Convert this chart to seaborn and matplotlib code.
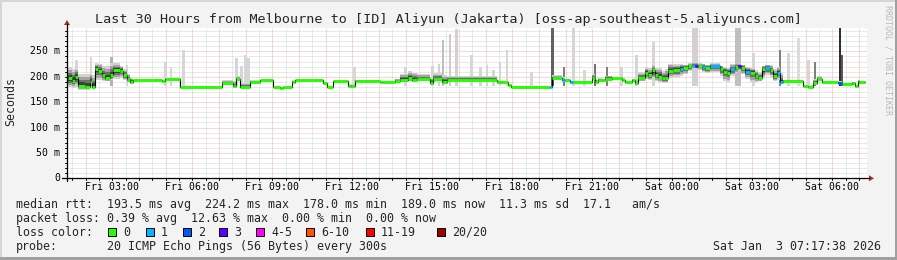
import numpy as np
import pandas as pd
import seaborn as sns
import matplotlib
matplotlib.use("Agg")
import matplotlib.pyplot as plt
from matplotlib.patches import Rectangle, Polygon
from matplotlib.lines import Line2D

# ---------------- data (hours since Fri 01:17:38) ----------------
title = "Last 30 Hours from Melbourne to [ID] Aliyun (Jakarta) [oss-ap-southeast-5.aliyuncs.com]"

t_med = [0.0, 0.05, 0.175, 0.3, 0.425, 0.675, 0.86, 0.925, 1.05, 1.175, 1.3, 1.425, 1.61, 1.74, 1.99,
         2.11, 2.24, 2.36, 2.49, 3.55, 3.675, 4.24, 5.8, 6.24, 6.325, 6.49, 6.86, 7.24, 7.74, 7.99,
         8.11, 8.425, 8.55, 9.61, 9.74, 9.99, 10.55, 10.65, 10.8, 11.74, 11.86, 12.3, 12.49, 12.8,
         12.925, 13.11, 13.61, 13.74, 14.05, 14.24, 16.11, 16.24, 16.55, 16.65, 18.11, 18.2, 18.55,
         18.675, 18.86, 18.99, 19.675, 19.8, 19.925, 20.05, 20.175, 20.425, 20.8, 20.925, 21.175,
         21.3, 21.425, 21.675, 21.8, 21.925, 22.05, 22.175, 22.3, 22.425, 22.55, 22.74, 22.99,
         23.11, 23.3, 23.425, 23.55, 23.675, 23.8, 23.925, 24.11, 24.49, 24.61, 24.74, 24.86,
         25.05, 25.175, 25.275, 25.425, 25.61, 25.8, 25.925, 26.05, 26.175, 26.36, 26.49, 26.61,
         26.74, 26.86, 27.61, 27.8, 27.99, 28.11, 28.3, 28.925, 29.05, 29.425, 29.55, 29.65, 29.71]
median_ms = [203, 197, 192, 200, 182, 180, 190, 180, 215, 212, 203, 197, 203, 213, 212,
             203, 195, 190, 193, 191, 195, 180, 188, 182, 195, 179.5, 189, 193, 180, 178,
             180, 190, 193, 187, 179.5, 192, 182, 181, 192, 190, 189, 192, 194, 197,
             194, 195, 187, 195, 189, 194, 190, 189, 183, 179.5, 179.5, 197, 194,
             193, 189, 189, 197, 189, 194, 193, 196, 197, 194, 189, 193,
             187, 197, 207, 203, 213, 203, 200, 197, 197, 212, 213, 216,
             217, 221, 222, 222, 221, 219, 217, 221, 215, 210, 208, 215,
             219, 221, 217, 210, 208, 201, 197, 215, 217, 213, 201, 208,
             189, 192, 182, 180, 188, 196, 189, 188, 186, 188, 182, 191, 189]
# ping spread below / above the median for each segment (ms)
smoke_dn = [24, 18, 14, 20, 8, 6, 10, 5, 22, 18, 12, 6, 10, 18, 15,
            10, 6, 4, 1, 1, 1, 0, 1, 1, 1, 0, 1, 0, 0, 0,
            0, 1, 1, 1, 0, 1, 1, 1, 1, 1, 1, 1, 4, 6,
            4, 3, 2, 5, 4, 2, 1, 1, 1, 0, 0, 2, 2,
            1, 1, 1, 3, 2, 1, 1, 1, 1, 1, 1, 1,
            2, 6, 12, 10, 18, 12, 10, 10, 10, 14, 14, 14,
            12, 10, 6, 6, 7, 10, 10, 12, 14, 18, 18, 14,
            12, 10, 12, 14, 18, 12, 6, 18, 14, 14, 10, 14,
            4, 1, 1, 0, 1, 1, 1, 1, 1, 1, 1, 1, 1]
smoke_up = [18, 22, 24, 18, 24, 26, 18, 24, 12, 14, 18, 24, 24, 14, 10,
            12, 10, 7, 2, 2, 2, 1, 5, 9, 6, 9, 4, 1, 1, 1,
            1, 3, 1, 1, 1, 1, 3, 4, 2, 1, 1, 4, 12, 14,
            14, 10, 12, 12, 14, 7, 3, 3, 2, 1, 2, 6, 5,
            3, 3, 2, 9, 5, 3, 3, 6, 3, 3, 3, 3,
            7, 12, 12, 14, 10, 14, 18, 14, 18, 14, 12, 10,
            7, 6, 6, 6, 6, 7, 7, 6, 7, 10, 10, 10,
            7, 6, 7, 10, 10, 12, 12, 7, 7, 10, 14, 12,
            18, 2, 1, 3, 7, 5, 2, 3, 2, 2, 2, 3, 2]
loss_cnt = [0] * len(t_med)
for _i, _t in enumerate(t_med):
    if _t in (18.11, 18.55, 18.86, 22.99, 23.425, 23.8, 24.11, 24.86, 25.425, 26.175, 26.61, 26.74):
        loss_cnt[_i] = 1
    if _t in (28.925,):
        loss_cnt[_i] = 2
    if _t in (23.55, 25.175):
        loss_cnt[_i] = 3
t_end = 29.93

# outlier ping spikes: centre time, top, grey level, width (h)
spike_t = [0.35, 0.9, 1.675, 2.24, 3.7, 3.9, 4.37, 6.36, 6.55, 6.7, 6.8, 10.775, 12.7, 13.7,
           13.95, 14.11, 14.36, 14.61, 15.175, 15.5, 15.75, 16.0, 16.24, 16.49, 17.425, 18.2,
           18.64, 18.99, 19.4, 19.8, 20.24, 20.8, 21.36, 21.99, 23.55, 25.16, 25.74, 26.74,
           27.05, 27.425, 27.8, 28.05, 28.99, 29.05]
spike_top = [233, 239, 239, 223, 229, 220, 252, 236, 221, 242, 236, 220, 220, 221,
             226, 272, 285, 295, 242, 220, 224, 213, 229, 252, 210, 296,
             220, 296, 213, 226, 220, 220, 242, 269, 296, 296, 246, 252,
             246, 277, 233, 230, 296, 242]
spike_grey = [0.84, 0.84, 0.7, 0.84, 0.84, 0.84, 0.84, 0.84, 0.84, 0.84, 0.84, 0.84, 0.84, 0.84,
              0.82, 0.75, 0.8, 0.82, 0.84, 0.84, 0.84, 0.84, 0.84, 0.84, 0.84, 0.38,
              0.5, 0.84, 0.84, 0.45, 0.5, 0.84, 0.84, 0.84, 0.82, 0.75, 0.84, 0.5,
              0.84, 0.86, 0.84, 0.5, 0.18, 0.35]
spike_w = [0.09] * len(spike_t)
spike_w[spike_t.index(23.55)] = 0.25
spike_w[spike_t.index(25.16)] = 0.23

xtick_labels = ["Fri 03:00", "Fri 06:00", "Fri 09:00", "Fri 12:00", "Fri 15:00",
                "Fri 18:00", "Fri 21:00", "Sat 00:00", "Sat 03:00", "Sat 06:00"]
ytick_vals = [0, 50, 100, 150, 200, 250]
ytick_labels = ["0", "50 m", "100 m", "150 m", "200 m", "250 m"]

rtt_stats = [193.5, 224.2, 178.0, 189.0, 11.3]
am_s = 17.1
loss_stats = [0.39, 12.63, 0.00, 0.00]
loss_labels = ["0", "1", "2", "3", "4-5", "6-10", "11-19", "20/20"]
loss_colors = ["#26ff00", "#00b8ff", "#0059ff", "#5e00ff", "#ff00ff", "#ff5500", "#ff0000", "#a10000"]
probe_text = "20 ICMP Echo Pings (56 Bytes) every 300s"
stamp_text = "Sat Jan  3 07:17:38 2026"

# ---------------- drawing ----------------
sns.set_style("white")
plt.rcParams["font.family"] = ["DejaVu Sans Mono"]

W, H = 897, 260
BG = "#f3f3f3"
fig = plt.figure(figsize=(W / 100, H / 100), dpi=100, facecolor=BG)

def fx(x):
    return x / W

def fy(y):
    return 1 - y / H

L, R, T, B = 67, 867, 28, 178.3
ax = fig.add_axes([fx(L), fy(B), (R - L) / W, (B - T) / H])
ax.set_facecolor("white")
for s in ax.spines.values():
    s.set_visible(False)
ax.set_xticks([]); ax.set_yticks([])

first_hour = 1 - 17 / 60 - 38 / 3600
dot = (0, (1.0, 1.0))
lw1 = 0.72
# minor grid
for k in range(-2, 62):
    h = first_hour + 0.5 * k
    if 0 < h < 30 and k % 2 != 0:
        ax.axvline(h, color="#d4d4d4", lw=lw1, ls=dot, zorder=0.5)
for v in range(10, 296, 10):
    if v % 50:
        ax.axhline(v, color="#d4d4d4", lw=lw1, ls=dot, zorder=0.5)
# major grid
for k in range(0, 30):
    h = first_hour + k
    if h < 30:
        ax.axvline(h, color="#f4b0b0", lw=lw1, ls=dot, zorder=0.6)
for v in range(50, 296, 50):
    ax.axhline(v, color="#f4b0b0", lw=lw1, ls=dot, zorder=0.6)

# outlier spikes (behind the smoke)
for t, top, g, w in sorted(zip(spike_t, spike_top, spike_grey, spike_w), key=lambda z: -z[2]):
    ax.fill_between([t - w / 2, t + w / 2], [182, 182], [top, top], color=str(g), lw=0, zorder=1)

# smoke: layered bands around the median
ends = t_med[1:] + [t_end]
layers = [(1.0, "#d2d2d2"), (0.75, "#a4a4a4"), (0.5, "#707070"), (0.28, "#404040")]
for frac, col in layers:
    for a, b, m, dn, up in zip(t_med, ends, median_ms, smoke_dn, smoke_up):
        if dn + up < 3:
            continue
        ax.fill_between([a, b], [m - dn * frac] * 2, [m + up * frac] * 2, color=col, lw=0, zorder=1.5)

# median line
df = pd.DataFrame({"t": t_med + [t_end], "median": median_ms + [median_ms[-1]]})
sns.lineplot(data=df, x="t", y="median", drawstyle="steps-post", color="black",
             lw=0.8, ax=ax, zorder=2)

def loss_idx(n):
    if n <= 3:
        return n
    if n <= 5:
        return 4
    if n <= 10:
        return 5
    if n <= 19:
        return 6
    return 7

for a, b, v, n in zip(t_med, ends, median_ms, loss_cnt):
    ax.hlines(v, a, b, color=loss_colors[loss_idx(n)], lw=2.1, zorder=3)

ax.set_xlabel(""); ax.set_ylabel("")
ax.set_xlim(0, 30)
ax.set_ylim(0, 296)

# axes lines and arrows (pixel coordinates on figure)
def fline(x0, y0, x1, y1, **kw):
    fig.add_artist(Line2D([fx(x0), fx(x1)], [fy(y0), fy(y1)], **kw))

fline(62, B, 869, B, color="black", lw=0.9)
fline(L, 181, L, 24, color="black", lw=0.9)
fig.add_artist(Polygon([[fx(869), fy(B - 3)], [fx(869), fy(B + 3)], [fx(874), fy(B)]],
                       closed=True, color="#a52a2a", lw=0))
fig.add_artist(Polygon([[fx(L - 3), fy(25)], [fx(L + 3), fy(25)], [fx(L), fy(20)]],
                       closed=True, color="#a52a2a", lw=0))
# tick marks
for k in range(-2, 62):
    h = first_hour + 0.5 * k
    if 0 < h < 30:
        xp = L + h * (R - L) / 30
        fline(xp, B, xp, B + 2, color="black", lw=0.7)
for v in range(10, 296, 10):
    yp = B - v * (B - T) / 296
    fline(L - 2, yp, L, yp, color="black", lw=0.7)

# tick labels
for i, lab in enumerate(xtick_labels):
    h = first_hour + 1 + 3 * i
    xp = L + h * (R - L) / 30
    fig.text(fx(xp), fy(187.5), lab, ha="center", va="center", fontsize=7.1, color="black")
for v, lab in zip(ytick_vals, ytick_labels):
    yp = B - v * (B - T) / 296
    fig.text(fx(60), fy(yp), lab, ha="right", va="center", fontsize=7.1, color="black")

fig.text(fx(11), fy(102), "Seconds", rotation=90, ha="center", va="center", fontsize=8.4)
fig.text(fx(448), fy(19.3), title, ha="center", va="center", fontsize=9.7)
fig.text(fx(888), fy(60), "RRDTOOL / TOBI OETIKER", rotation=-90, ha="center", va="center",
         fontsize=6, color="#b8b8b8")

# legend / stats
fs = 8.4
line1 = ("median rtt:  {:.1f} ms avg  {:.1f} ms max  {:.1f} ms min  {:.1f} ms now  "
         "{:.1f} ms sd  {:.1f}   am/s").format(*rtt_stats, am_s)
line2 = "packet loss: {:.2f} % avg  {:.2f} % max  {:.2f} % min  {:.2f} % now".format(*loss_stats)
fig.text(fx(16), fy(204.3), line1, ha="left", va="center", fontsize=fs)
fig.text(fx(16), fy(218.3), line2, ha="left", va="center", fontsize=fs)
fig.text(fx(16), fy(232.3), "loss color:", ha="left", va="center", fontsize=fs)
fig.text(fx(16), fy(246.3), "probe:", ha="left", va="center", fontsize=fs)
fig.text(fx(107), fy(246.3), probe_text, ha="left", va="center", fontsize=fs)
fig.text(fx(881), fy(246.3), stamp_text, ha="right", va="center", fontsize=fs)

box_x = [108, 145.7, 182.7, 219.3, 256, 306, 366, 436.7]
for bx, lab, col in zip(box_x, loss_labels, loss_colors):
    fig.add_artist(Rectangle((fx(bx), fy(236.3)), 8 / W, 8 / H, facecolor=col,
                             edgecolor="black", lw=0.7))
    fig.text(fx(bx + 15), fy(232.3), lab, ha="left", va="center", fontsize=fs)

# 3D border
fig.add_artist(Rectangle((0, fy(2)), 1, 2 / H, facecolor="#d6d6d6", lw=0))
fig.add_artist(Rectangle((0, 0), 2 / W, 1, facecolor="#d6d6d6", lw=0))
fig.add_artist(Rectangle((0, 0), 1, 3 / H, facecolor="#a0a0a0", lw=0))
fig.add_artist(Rectangle((fx(W - 2), 0), 2 / W, 1, facecolor="#a0a0a0", lw=0))

fig.savefig("out.png", dpi=100, facecolor=BG)
